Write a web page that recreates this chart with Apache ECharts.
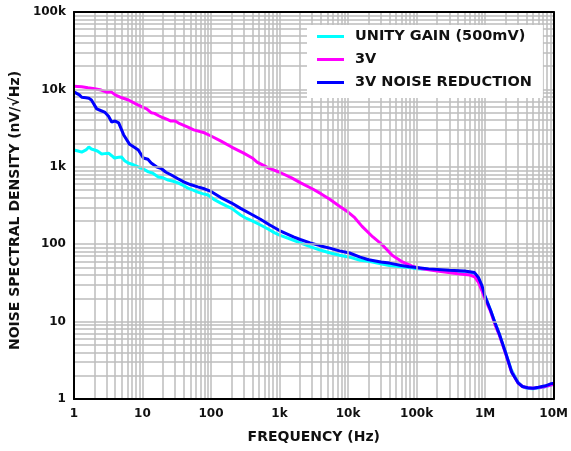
<!DOCTYPE html>
<html><head><meta charset="utf-8">
<script src="https://cdn.jsdelivr.net/npm/echarts@6/dist/echarts.min.js"></script>
<style>html,body{margin:0;padding:0;background:#fff}#c{width:571px;height:451px}</style>
</head><body><div id="c"></div>
<script>
const seriesNames = ['UNITY GAIN (500mV)', '3V', '3V NOISE REDUCTION'];
const seriesColors = ['#00FFFF', '#FF00FF', '#0000FF'];
const xTickValues = [1, 10, 100, 1e3, 1e4, 1e5, 1e6, 1e7];
const xTickLabels = ['1', '10', '100', '1k', '10k', '100k', '1M', '10M'];
const yTickValues = [1, 10, 100, 1e3, 1e4, 1e5];
const yTickLabels = ['1', '10', '100', '1k', '10k', '100k'];

const unityFreq = [1,1.15,1.3,1.5,1.65,1.8,2,2.2,2.54,2.8,3.2,3.6,3.9,4.5,4.95,5.5,6.2,7,8.7,10,12.2,14,17,20,23.7,28,33,40,46,55,64,75,90,110,139,170,200,270,330,400,527,700,850,1000,1500,2000,2800,3900,5500,7500,10500,15000,20000,30000,40000,60000,80000,100000,150000,300000,500000,700000,800000,900000,1000000,1200000,1400000,1600000,2000000,2400000,3000000,3500000,4000000,5000000,7000000,10000000];
const unityNoise = [1650,1600,1550,1650,1800,1700,1650,1600,1460,1480,1500,1380,1300,1330,1340,1200,1120,1080,995,950,860,830,740,720,675,650,620,570,530,500,470,450,433,380,340,310,290,238,215,200,177,155,140,131,115,104,93,84,77,72,68,62,60,56,53,51,50,48,47,45,44,42,36,28,21,14,9.5,7,3.9,2.4,1.65,1.45,1.38,1.36,1.42,1.55];

const v3Freq = [1,1.3,1.6,2,2.5,3,3.5,4,5,6.25,8,10,11.5,13.4,15,17,20,23,26,30,35,46,56,80,100,140,200,300,400,470,700,1000,1500,2000,3000,4000,5400,7500,10000,12500,16000,23000,32000,44000,62000,86000,120000,200000,400000,600000,700000,800000,900000,1000000,1200000,1400000,1600000,2000000,2400000,3000000,3500000,4000000,5000000,7000000,10000000];
const v3Noise = [11000,10800,10500,10200,9800,9200,9300,8500,7800,7300,6500,5900,5600,5000,4900,4600,4300,4100,3900,3900,3600,3250,3000,2750,2500,2150,1800,1500,1300,1150,960,850,720,625,520,450,380,310,260,220,170,124,97,72,59,52,48,45,41.5,40,38,32,25,19.5,13.5,9,6.8,3.8,2.3,1.62,1.45,1.4,1.38,1.43,1.55];

const nrFreq = [1,1.2,1.3,1.5,1.65,1.8,2.15,2.5,2.8,3.2,3.55,4,4.5,5.3,6.5,7.5,8.7,10.3,12,13.4,16,18.8,22,26,33,40,50,64,80,100,139,200,270,400,527,700,1000,1300,1600,2000,2800,4000,5400,7500,10500,15000,20000,30000,40000,60000,78000,100000,150000,300000,500000,700000,800000,900000,1000000,1200000,1400000,1600000,2000000,2450000,3050000,3500000,4200000,5000000,6000000,7600000,9200000,10000000];
const nrNoise = [9300,8500,7900,7800,7700,7300,5600,5300,5100,4500,3800,3900,3700,2600,1950,1800,1650,1300,1250,1120,1000,950,850,790,700,640,590,550,520,480,400,340,290,240,210,180,150,135,124,115,104,95,89,82,77,68,63,59,57,53,51,50,48,46,45,43,37,29,21,14,9.5,7,3.9,2.2,1.6,1.45,1.4,1.38,1.42,1.48,1.58,1.6];

const font = '"DejaVu Sans", Verdana, sans-serif';
function zip(f, v) { return f.map((x, i) => [x, v[i]]); }
function labelFor(values, labels) {
  return v => { const i = values.findIndex(t => Math.abs(Math.log10(t) - Math.log10(v)) < 1e-6); return i >= 0 ? labels[i] : ''; };
}
const minorX = [], minorY = [];
for (let k = 0; k < 7; k++) for (let m = 2; m <= 9; m++) minorX.push({ xAxis: m * Math.pow(10, k) });
for (let k = 0; k < 5; k++) for (let m = 2; m <= 9; m++) minorY.push({ yAxis: m * Math.pow(10, k) });

const chart = echarts.init(document.getElementById('c'), null, { renderer: 'canvas' });
const dataSets = [zip(unityFreq, unityNoise), zip(v3Freq, v3Noise), zip(nrFreq, nrNoise)];
const labelStyle = { fontFamily: font, fontWeight: 'bold', fontSize: 12, color: '#111' };
const nameStyle = { fontFamily: font, fontWeight: 'bold', fontSize: 14, color: '#111' };
const gridLine = { color: '#bdbdbd', width: 1.5 };
chart.setOption({
  animation: false,
  backgroundColor: '#fff',
  grid: { left: 72, right: 15, top: 12, bottom: 52 },
  legend: {
    left: 307, top: 25, orient: 'vertical', z: 20,
    backgroundColor: '#fff', padding: [4, 11, 8, 10], itemGap: 8,
    icon: 'rect', itemWidth: 27, itemHeight: 3,
    textStyle: { fontFamily: font, fontWeight: 'bold', fontSize: 14.5, color: '#111', padding: [0, 0, 0, 6] },
    data: seriesNames
  },
  xAxis: [{
    type: 'log', logBase: 10, min: 1, max: 1e7, z: 10,
    name: 'FREQUENCY (Hz)', nameLocation: 'middle', nameGap: 31,
    nameTextStyle: nameStyle,
    axisLine: { show: true, lineStyle: { color: '#000', width: 2 } },
    axisTick: { show: false },
    axisLabel: Object.assign({ margin: 9, formatter: labelFor(xTickValues, xTickLabels) }, labelStyle),
    splitLine: { show: true, lineStyle: gridLine }
  }, {
    type: 'log', logBase: 10, min: 1, max: 1e7, position: 'top', z: 10,
    axisLine: { show: true, onZero: false, lineStyle: { color: '#000', width: 2 } },
    axisTick: { show: false }, axisLabel: { show: false }, splitLine: { show: false }
  }],
  yAxis: [{
    type: 'log', logBase: 10, min: 1, max: 1e5, z: 10,
    name: 'NOISE SPECTRAL DENSITY (nV/√Hz)', nameLocation: 'middle', nameGap: 47,
    nameTextStyle: Object.assign({ padding: [0, 10, 0, 0] }, nameStyle),
    axisLine: { show: true, lineStyle: { color: '#000', width: 2 } },
    axisTick: { show: false },
    axisLabel: Object.assign({ margin: 8, formatter: labelFor(yTickValues, yTickLabels) }, labelStyle),
    splitLine: { show: true, lineStyle: gridLine }
  }, {
    type: 'log', logBase: 10, min: 1, max: 1e5, position: 'right', z: 10,
    axisLine: { show: true, onZero: false, lineStyle: { color: '#000', width: 2 } },
    axisTick: { show: false }, axisLabel: { show: false }, splitLine: { show: false }
  }],
  series: [
    {
      type: 'line', name: '__grid', data: [], z: 1, silent: true,
      markLine: {
        z: 1, silent: true, symbol: 'none', animation: false, label: { show: false },
        lineStyle: Object.assign({ type: 'solid' }, gridLine),
        emphasis: { disabled: true },
        data: minorX.concat(minorY)
      }
    }
  ].concat(seriesNames.map((n, i) => ({
    type: 'line', name: n, data: dataSets[i], showSymbol: false, symbol: 'none', z: 3,
    lineStyle: { color: seriesColors[i], width: 3 }, itemStyle: { color: seriesColors[i] }
  })))
});
</script></body></html>
